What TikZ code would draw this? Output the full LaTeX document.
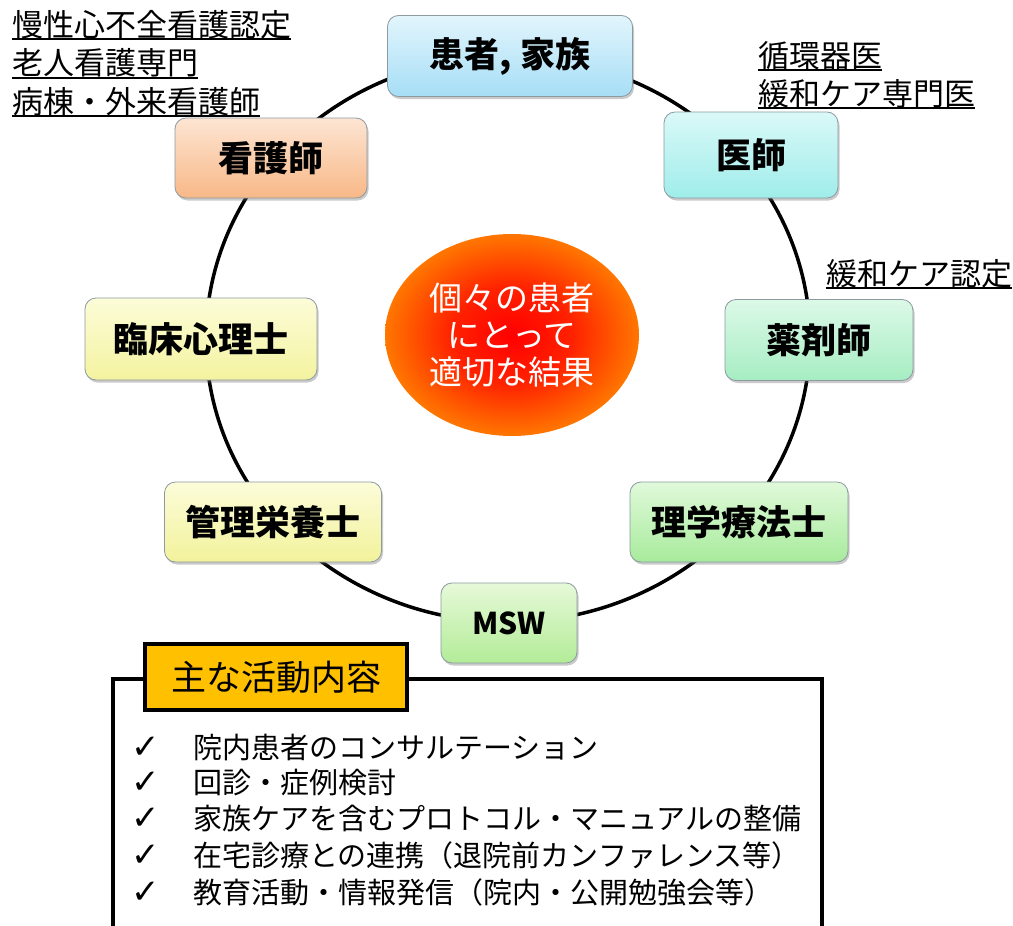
\documentclass[tikz,border=0pt]{standalone}
\usepackage{fontspec}
\setmainfont{Noto Sans CJK JP}
\newfontfamily\dejavu{DejaVu Sans}
\usetikzlibrary{shapes.geometric,shadows}
\newcommand\ulx[1]{\setbox0\hbox{#1}\rlap{\raisebox{-4pt}{\rule{\wd0}{2pt}}}\box0}

\definecolor{boxborder}{HTML}{8C9AA2}
\definecolor{kazokuT}{HTML}{E2F5FC}\definecolor{kazokuB}{HTML}{A6DEF6}
\definecolor{ishiT}{HTML}{DAF9F8}\definecolor{ishiB}{HTML}{9FEDEA}
\definecolor{yakuT}{HTML}{DCF9E8}\definecolor{yakuB}{HTML}{A6EDC2}
\definecolor{rigakuT}{HTML}{E0F9DA}\definecolor{rigakuB}{HTML}{A8EB9C}
\definecolor{mswT}{HTML}{E6F9D8}\definecolor{mswB}{HTML}{B3EC98}
\definecolor{eiyoT}{HTML}{FCFCDA}\definecolor{eiyoB}{HTML}{F2F29B}
\definecolor{shinriT}{HTML}{FCFCD8}\definecolor{shinriB}{HTML}{F4F3A0}
\definecolor{kangoT}{HTML}{FDE5D3}\definecolor{kangoB}{HTML}{F8B887}
\definecolor{titleorange}{HTML}{FFC000}
\definecolor{sunA}{HTML}{FF0000}
\definecolor{sunB}{HTML}{FF2200}
\definecolor{sunC}{HTML}{FF8400}
\definecolor{sunD}{HTML}{FFC000}
\definecolor{sunE}{HTML}{F9CF8C}
\definecolor{sunF}{HTML}{F3D5B8}
\pgfdeclareradialshading{sunshade}{\pgfpoint{0bp}{0bp}}{color(0bp)=(sunA); color(12bp)=(sunB); color(27bp)=(sunC); color(40bp)=(sunD); color(47bp)=(sunE); color(50bp)=(sunF)}

\begin{document}
\begin{tikzpicture}[x=1pt,y=-1pt,
  ring/.style={line width=3.5pt, draw=black},
  member/.style={rounded corners=11pt, draw=boxborder, line width=0.8pt,
    drop shadow={shadow xshift=1.5pt, shadow yshift=-2.5pt, opacity=0.35, fill=black!60},
    font=\fontsize{35}{40}\selectfont\bfseries, text=black, inner sep=0pt},
  lbl/.style={anchor=base west, inner sep=0pt, font=\fontsize{31}{38}\selectfont},
  goal/.style={ellipse, shading=sunshade, minimum width=254pt, minimum height=202pt,
    inner sep=0pt, align=center, text=white, font=\fontsize{33}{37}\selectfont},
  frameline/.style={line width=4.5pt, draw=black},
  titlebox/.style={draw=black, line width=3.5pt, fill=titleorange, minimum width=262pt,
    minimum height=66pt, inner sep=0pt, font=\fontsize{35}{40}\selectfont},
  chk/.style={anchor=base west, inner sep=0pt, font=\dejavu\fontsize{34}{36}\selectfont},
  item/.style={anchor=base west, inner sep=0pt, font=\fontsize{29}{36}\selectfont}
]
\useasboundingbox (0,0) rectangle (1013,926);

% ring
\coordinate (ringc) at (508,339);
\draw[ring] (ringc) ellipse [x radius=302pt, y radius=283pt];

% center goal
\node[goal] (goal) at (512,335) {個々の患者\\にとって\\適切な結果};

% members
\node[member, minimum width=245pt, minimum height=81pt, top color=kazokuT, bottom color=kazokuB] (kazoku) at (510,56) {患者, 家族};
\node[member, minimum width=174pt, minimum height=86pt, top color=ishiT, bottom color=ishiB] (ishi) at (751,155) {医師};
\node[member, minimum width=188pt, minimum height=81pt, top color=yakuT, bottom color=yakuB] (yaku) at (819,340) {薬剤師};
\node[member, minimum width=218pt, minimum height=80pt, top color=rigakuT, bottom color=rigakuB] (rigaku) at (739,522) {理学療法士};
\node[member, minimum width=136pt, minimum height=80pt, top color=mswT, bottom color=mswB, font=\fontsize{30}{36}\selectfont\bfseries] (msw) at (509,623) {MSW};
\node[member, minimum width=217pt, minimum height=80pt, top color=eiyoT, bottom color=eiyoB] (eiyo) at (273,522) {管理栄養士};
\node[member, minimum width=232pt, minimum height=82pt, top color=shinriT, bottom color=shinriB] (shinri) at (201,339) {臨床心理士};
\node[member, minimum width=192pt, minimum height=80pt, top color=kangoT, bottom color=kangoB] (kango) at (271,158) {看護師};

% labels
\node[lbl] (tl1) at (12,36) {\ulx{慢性心不全看護認定}};
\node[lbl] (tl2) at (12,74.5) {\ulx{老人看護専門}};
\node[lbl] (tl3) at (12,113) {\ulx{病棟・外来看護師}};
\node[lbl] (dr1) at (758,67) {\ulx{循環器医}};
\node[lbl] (dr2) at (758,105) {\ulx{緩和ケア専門医}};
\node[lbl] (ph1) at (826,285) {\ulx{緩和ケア認定}};

% activity frame
\coordinate (fbl) at (113,926);
\coordinate (ftl) at (113,679);
\coordinate (ftr) at (822,679);
\coordinate (fbr) at (822,926);
\draw[frameline] (fbl) -- (ftl) -- (ftr) -- (fbr);
\node[titlebox] (title) at (276,677) {主な活動内容};

\node[chk] (c1) at (131,758) {✓};
\node[chk] (c2) at (131,793) {✓};
\node[chk] (c3) at (131,829) {✓};
\node[chk] (c4) at (131,866) {✓};
\node[chk] (c5) at (131,903) {✓};
\node[item] (i1) at (193,758) {院内患者のコンサルテーション};
\node[item] (i2) at (193,793) {回診・症例検討};
\node[item] (i3) at (193,829) {家族ケアを含むプロトコル・マニュアルの整備};
\node[item] (i4) at (193,866) {在宅診療との連携（退院前カンファレンス等）};
\node[item] (i5) at (193,903) {教育活動・情報発信（院内・公開勉強会等）};
\end{tikzpicture}
\end{document}
